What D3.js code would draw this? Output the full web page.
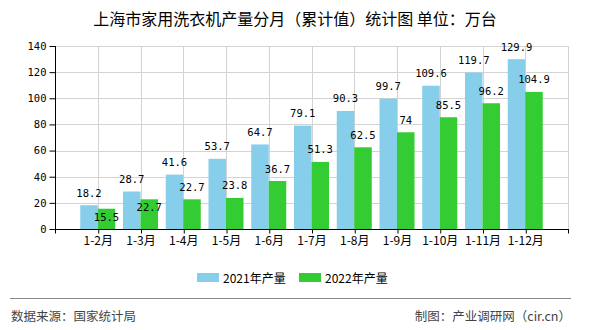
<!DOCTYPE html>
<html><head><meta charset="utf-8">
<script src="https://cdn.jsdelivr.net/npm/d3@7/dist/d3.min.js"></script>
<style>
body{margin:0;background:#fff;}
svg{display:block;}
</style></head>
<body>
<script>
const categories = ["1-2月","1-3月","1-4月","1-5月","1-6月","1-7月","1-8月","1-9月","1-10月","1-11月","1-12月"];
const values2021 = [18.2,28.7,41.6,53.7,64.7,79.1,90.3,99.7,109.6,119.7,129.9];
const values2022 = [15.5,22.7,22.7,23.8,36.7,51.3,62.5,74,85.5,96.2,104.9];
const yTicks = [0,20,40,60,80,100,120,140];
const seriesNames = ["2021年产量","2022年产量"];
const colors = ["#87CEEB","#33CC33"];

const W=590,H=330;
const svg=d3.select("body").append("svg").attr("width",W).attr("height",H);
const L=55,R=568,T=46,B=229;
const x=d3.scalePoint().domain(categories).range([L,R]).padding(1);
const y=d3.scaleLinear().domain([0,140]).range([B,T]);
const bw=17.5;
const numFont="'DejaVu Sans Mono', monospace";
const numSize=10.5;

// title
svg.append("text").attr("x",295).attr("y",25).attr("text-anchor","middle")
  .attr("font-family","'Noto Sans CJK SC', sans-serif").attr("font-size",16).attr("fill","#000")
  .text("上海市家用洗衣机产量分月（累计值）统计图 单位：万台");

// grid
const g=svg.append("g");
g.selectAll(".hg").data(yTicks.filter(d=>d>0)).join("line")
  .attr("x1",L).attr("x2",R).attr("y1",d=>Math.round(y(d))+0.5).attr("y2",d=>Math.round(y(d))+0.5)
  .attr("stroke","#d3d3d3").attr("stroke-width",1);
g.selectAll(".vg").data(categories).join("line")
  .attr("x1",d=>Math.round(x(d))+0.5).attr("x2",d=>Math.round(x(d))+0.5).attr("y1",T).attr("y2",B)
  .attr("stroke","#d3d3d3");
g.append("line").attr("x1",R+0.5).attr("x2",R+0.5).attr("y1",T).attr("y2",B).attr("stroke","#d3d3d3");

// bars
const data=categories.map((c,i)=>({c,a:values2021[i],b:values2022[i]}));
svg.selectAll(".ba").data(data).join("rect")
  .attr("x",d=>x(d.c)-bw).attr("width",bw).attr("y",d=>y(d.a)).attr("height",d=>B-y(d.a)).attr("fill",colors[0]);
svg.selectAll(".bb").data(data).join("rect")
  .attr("x",d=>x(d.c)).attr("width",bw).attr("y",d=>y(d.b)).attr("height",d=>B-y(d.b)).attr("fill",colors[1]);

// axes
const yAxis=d3.axisLeft(y).tickValues(yTicks).tickSize(6).tickPadding(3);
const ya=svg.append("g").attr("transform",`translate(${L+0.5},0)`).call(yAxis);
ya.select(".domain").attr("d",`M0,${T}V${B}`);
ya.selectAll("text").attr("font-family",numFont).attr("font-size",numSize).attr("fill","#000");
const xAxis=d3.axisBottom(x).tickSize(4).tickPadding(3);
const xa=svg.append("g").attr("transform",`translate(0,${B+0.5})`).call(xAxis);
xa.select(".domain").attr("d",`M${L},0H${R+1}`);
xa.selectAll(".tick line").attr("transform","translate(0.5,0)");
xa.selectAll("text").attr("font-family","'Noto Sans CJK SC', sans-serif").attr("font-size",12).attr("fill","#000");
[L,R].forEach(px=>xa.append("line").attr("x1",px+0.5).attr("x2",px+0.5).attr("y1",0).attr("y2",4).attr("stroke","#000"));

// labels
const labelGap=8.5;
svg.selectAll(".la").data(data).join("text")
  .attr("x",d=>x(d.c)-bw/2).attr("y",d=>y(d.a)-labelGap).attr("text-anchor","middle")
  .attr("font-family",numFont).attr("font-size",numSize).attr("fill","#000").text(d=>d.a);
svg.selectAll(".lb").data(data).join("text")
  .attr("x",d=>x(d.c)+bw/2)
  .attr("y",d=>{const ya=y(d.a)-labelGap, yb=y(d.b)-labelGap; return (yb-ya<12)? y(d.b)+12 : yb;})
  .attr("text-anchor","middle")
  .attr("font-family",numFont).attr("font-size",numSize).attr("fill","#000").text(d=>d.b);

// legend
const lg=svg.append("g");
const legX=[197,299];
seriesNames.forEach((n,i)=>{
  lg.append("rect").attr("x",legX[i]).attr("y",273).attr("width",22).attr("height",9).attr("fill",colors[i]);
  lg.append("text").attr("x",legX[i]+26).attr("y",283).attr("font-family","'Noto Sans CJK SC', sans-serif")
    .attr("font-size",12).attr("fill","#000").text(n);
});

// footer
svg.append("line").attr("x1",10).attr("x2",571).attr("y1",298.5).attr("y2",298.5).attr("stroke","#888").attr("stroke-width",1);
svg.append("text").attr("x",11).attr("y",321).attr("font-family","'Noto Sans CJK SC', sans-serif")
  .attr("font-size",12.5).attr("fill","#444").text("数据来源：国家统计局");
svg.append("text").attr("x",571).attr("y",321).attr("text-anchor","end").attr("font-family","'Noto Sans CJK SC', sans-serif")
  .attr("font-size",12.5).attr("fill","#444").text("制图：产业调研网（cir.cn）");
</script>
</body></html>
